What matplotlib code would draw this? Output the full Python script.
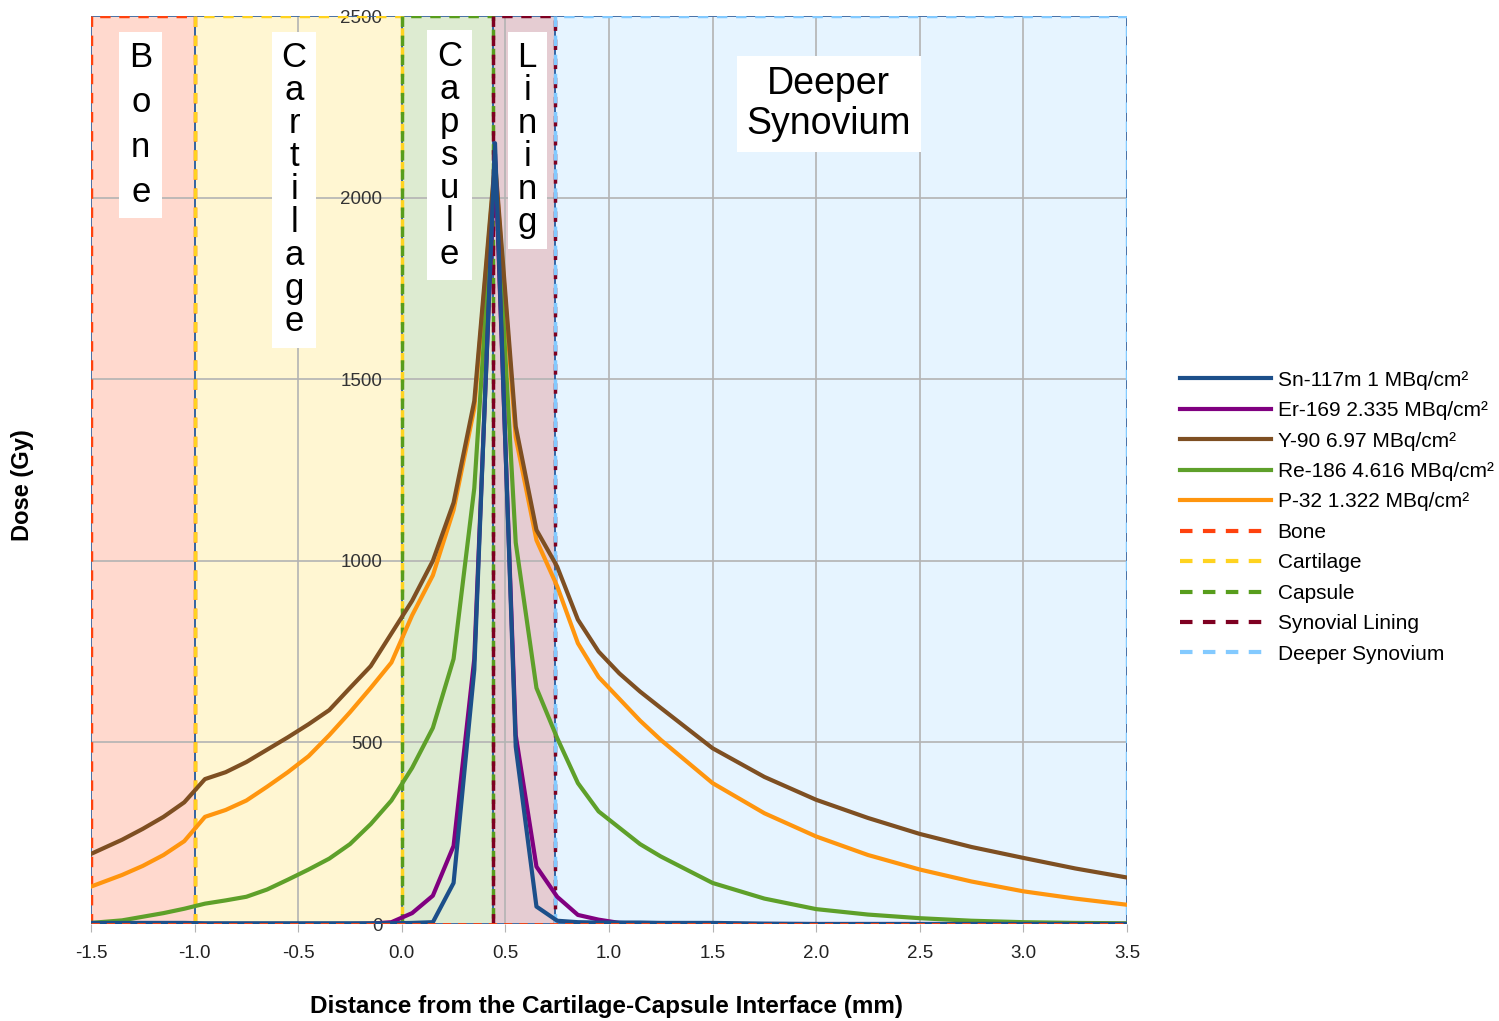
import matplotlib
matplotlib.use("Agg")
import matplotlib.pyplot as plt
from matplotlib.patches import Rectangle

plt.rcParams['font.family'] = ['Liberation Sans', 'DejaVu Sans']

# distance from the cartilage-capsule interface (mm)
x_mm = [-1.5, -1.35, -1.25, -1.15, -1.05, -0.95, -0.85, -0.75, -0.65, -0.55,
        -0.45, -0.35, -0.25, -0.15, -0.05, 0.05, 0.15, 0.25, 0.35, 0.45,
        0.55, 0.65, 0.75, 0.85, 0.95, 1.05, 1.15, 1.25, 1.5, 1.75,
        2.0, 2.25, 2.5, 2.75, 3.0, 3.25, 3.5]

# dose (Gy)
sn117m = [3, 3, 3, 3, 3, 2, 2, 2, 2, 2,
          2, 2, 2, 2, 2, 3, 5, 113, 700, 2150,
          488, 48, 9, 5, 4, 4, 4, 3, 3, 1,
          0, 0, 0, 0, 0, 0, 0]
er169 = [0, 0, 0, 0, 0, 0, 0, 0, 0, 0,
         0, 0, 0, 1, 5, 30, 78, 215, 730, 2120,
         520, 158, 75, 25, 12, 3, 1, 0, 0, 0,
         0, 0, 0, 0, 0, 0, 0]
y90 = [193, 232, 262, 295, 335, 399, 418, 446, 480, 514,
       550, 589, 650, 710, 800, 890, 1000, 1160, 1440, 2100,
       1370, 1085, 984, 838, 750, 690, 640, 595, 484, 405,
       342, 292, 248, 212, 182, 153, 128]
re186 = [3, 10, 20, 30, 42, 56, 65, 75, 95, 122,
         150, 180, 220, 275, 340, 430, 540, 730, 1200, 2080,
         1050, 650, 512, 388, 310, 265, 220, 186, 113, 70,
         41, 26, 16, 9, 5, 3, 2]
p32 = [103, 135, 160, 190, 228, 295, 314, 340, 378, 418,
       462, 520, 583, 650, 720, 850, 960, 1140, 1420, 2090,
       1340, 1057, 930, 773, 680, 620, 560, 507, 388, 305,
       241, 190, 150, 117, 90, 70, 53]

series_names = ['Sn-117m 1 MBq/cm²', 'Er-169 2.335 MBq/cm²', 'Y-90 6.97 MBq/cm²',
                'Re-186 4.616 MBq/cm²', 'P-32 1.322 MBq/cm²']
series_colors = ['#1c4f8a', '#800080', '#7e4f22', '#5ea02a', '#ff950e']

# tissue layers (mm)
region_names = ['Bone', 'Cartilage', 'Capsule', 'Synovial Lining', 'Deeper Synovium']
region_start = [-1.5, -1.0, 0.0, 0.44, 0.74]
region_end = [-1.0, 0.0, 0.44, 0.74, 3.5]
region_colors = ['#ff420e', '#ffd320', '#579d1c', '#7e0021', '#83caff']
region_labels = ['B\no\nn\ne', 'C\na\nr\nt\ni\nl\na\ng\ne', 'C\na\np\ns\nu\nl\ne',
                 'L\ni\nn\ni\nn\ng', 'Deeper\nSynovium']
label_x = [-1.26, -0.52, 0.23, 0.605, 2.06]
label_y = [2430, 2430, 2435, 2430, 2362]
label_size = [25, 25, 25, 25, 27]
label_spacing = [1.45, 1.0, 1.0, 1.0, 1.15]

dose_max = 2500

fig = plt.figure(figsize=(14.99, 10.21), dpi=100)
ax = fig.add_axes([0.0607, 0.095, 0.6911, 0.8893])

# shaded layers with dashed outlines
for x0, x1, c in zip(region_start, region_end, region_colors):
    ax.axvspan(x0, x1, facecolor=c, alpha=0.2, edgecolor='none', zorder=0.5)
    ax.add_patch(Rectangle((x0, 0), x1 - x0, dose_max, fill=False,
                           edgecolor='#3465a4', lw=1.2, zorder=1.6))
    ax.plot([x0, x0, x1, x1], [0, dose_max, dose_max, 0], color=c, lw=2.5,
            ls=(0, (3, 2.5)), zorder=1.7)

handles = []
for vals, name, c in zip([sn117m, er169, y90, re186, p32][::-1], series_names[::-1],
                         series_colors[::-1]):
    h, = ax.plot(x_mm, vals, color=c, lw=3, label=name, zorder=3)
    handles.append(h)
handles = handles[::-1]

# dashed line along the bottom
ax.plot([-1.5, 3.5], [0, 0], color='#ff420e', lw=2, ls=(0, (3, 2.5)), zorder=3.5)

for lab, lx, ly, fs, sp in zip(region_labels, label_x, label_y, label_size, label_spacing):
    ax.text(lx, ly, lab, ha='center', va='top', fontsize=fs, linespacing=sp,
            color='black', zorder=4,
            bbox=dict(facecolor='white', edgecolor='none', pad=7))

ax.set_xlim(-1.5, 3.5)
ax.set_ylim(0, dose_max)
ax.set_xticks([-1.5, -1.0, -0.5, 0.0, 0.5, 1.0, 1.5, 2.0, 2.5, 3.0, 3.5])
ax.set_xticklabels(['-1.5', '-1.0', '-0.5', '0.0', '0.5', '1.0', '1.5', '2.0',
                    '2.5', '3.0', '3.5'])
ax.set_yticks([0, 500, 1000, 1500, 2000, 2500])
ax.grid(True, color='#b3b3b3', lw=1.2)
for s in ['top', 'right', 'bottom']:
    ax.spines[s].set_visible(False)
ax.spines['left'].set_position(('data', 0))
ax.spines['left'].set_visible(False)
ax.tick_params(axis='y', length=0, pad=14, labelsize=13.5, labelcolor='#333333')
ax.tick_params(axis='x', length=6, color='#b3b3b3', pad=9, labelsize=13.5,
               labelcolor='#222222')
for t in ax.get_yticklabels():
    t.set_zorder(5)

fig.text(607 / 1499, 1 - 1006 / 1021, 'Distance from the Cartilage-Capsule Interface (mm)',
         fontsize=17.5, fontweight='bold', ha='center', va='center')
fig.text(0.0147, 0.525, 'Dose (Gy)', rotation=90, fontsize=17, fontweight='bold',
         ha='center', va='center')

# legend entries for the layers
for name, c in zip(region_names, region_colors):
    h, = ax.plot([], [], color=c, lw=3, ls=(0, (3, 2.5)), label=name)
    handles.append(h)

fig.legend(handles=handles, loc='upper left', bbox_to_anchor=(0.787, 0.637),
           frameon=False, fontsize=15, handlelength=4.4, handletextpad=0.3,
           labelspacing=0.55, borderaxespad=0, borderpad=0)

fig.savefig('out.png', dpi=100)
